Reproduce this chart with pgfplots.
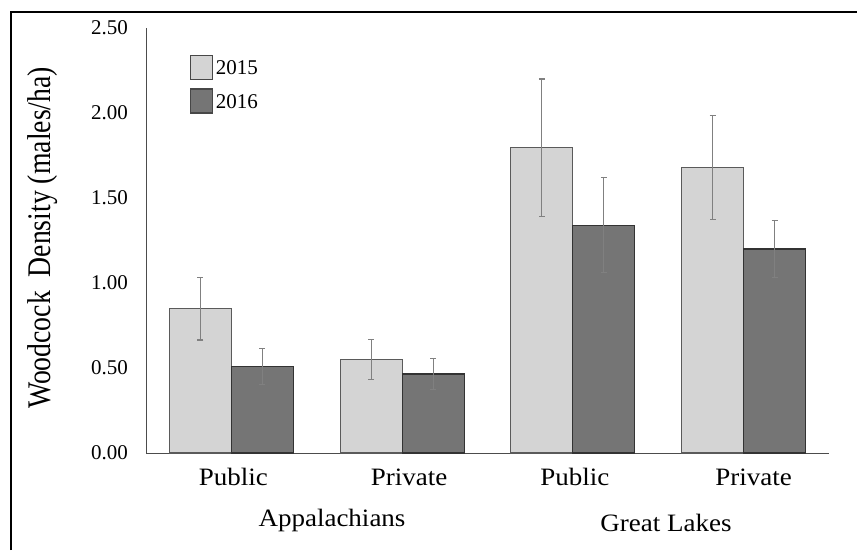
\documentclass[border=0pt]{standalone}
\usepackage{fontspec}
\setmainfont{Liberation Serif}
\newfontfamily\catfont[FakeStretch=1.08]{Liberation Serif}
\newfontfamily\ylabfont[FakeStretch=0.84]{Liberation Serif}
\usepackage{pgfplots}
\pgfplotsset{compat=1.18}

\definecolor{lightbar}{HTML}{D4D4D4}
\definecolor{darkbar}{HTML}{757575}
\definecolor{lightedge}{HTML}{5A5A5A}
\definecolor{darkedge}{HTML}{333333}
\definecolor{errgray}{HTML}{808080}

\begin{document}
\begin{tikzpicture}[x=1pt,y=1pt]
\useasboundingbox (0,0) rectangle (857,550);
% outer frame (left and top edges)
\draw[line width=1.6pt, black] (11,0) -- (11,538) -- (857,538);

\begin{axis}[
  at={(146pt,97pt)}, anchor=south west,
  scale only axis, width=683pt, height=425pt,
  xmin=-0.5, xmax=3.5, ymin=0, ymax=2.5,
  axis lines*=left,
  axis line style={black!70, line width=1pt},
  major tick length=0pt,
  xtick={0,1,2,3},
  xticklabels={{\hspace*{4pt}Public},{\hspace*{14pt}Private},{\hspace*{4pt}Public},{\hspace*{20pt}Private}},
  xticklabel style={font=\catfont\fontsize{25}{28}\selectfont, anchor=base, inner sep=0pt, yshift=-32pt},
  ytick={0,0.5,1,1.5,2,2.5},
  yticklabel style={font=\fontsize{21}{24}\selectfont, anchor=east, inner sep=0pt, xshift=-18pt,
    /pgf/number format/.cd, fixed, fixed zerofill, precision=2, assume math mode=true},
  ybar=0pt, bar width=62pt,
  legend style={draw=none, fill=none, at={(rel axis cs:0.0644,0.9365)}, anchor=north west,
    inner sep=0pt, row sep=8pt, font=\fontsize{21}{24}\selectfont,
    nodes={inner sep=2.5pt, text depth=0pt}},
  legend cell align=left,
  legend image code/.code={\draw[#1, draw=black!72, line width=1.3pt] (0pt,-12pt) rectangle (22pt,12pt);},
  error bars/y dir=both, error bars/y explicit,
  error bars/error bar style={errgray, line width=1.1pt},
  error bars/error mark options={rotate=90, errgray, mark size=3pt, line width=1.1pt},
  clip=false,
]
% 2015 survey
\addplot[fill=lightbar, draw=lightedge, line width=1.2pt] coordinates {
  (0,0.85) +- (0,0.185)
  (1,0.55) +- (0,0.118)
  (2,1.795) +- (0,0.405)
  (3,1.68) +- (0,0.306)
};
% 2016 survey
\addplot[fill=darkbar, draw=darkedge, line width=1.2pt] coordinates {
  (0,0.51) +- (0,0.105)
  (1,0.465) +- (0,0.09)
  (2,1.34) +- (0,0.28)
  (3,1.20) +- (0,0.17)
};
\legend{2015,2016}
\end{axis}

% axis title and region names
\node[rotate=90, font=\ylabfont\fontsize{33}{36}\selectfont] at (43,312) {Woodcock\ \ Density (males/ha)};
\node[anchor=base, font=\catfont\fontsize{25}{28}\selectfont] at (332,23.3) {Appalachians};
\node[anchor=base, font=\catfont\fontsize{25}{28}\selectfont] at (666,19) {Great Lakes};
\end{tikzpicture}
\end{document}
